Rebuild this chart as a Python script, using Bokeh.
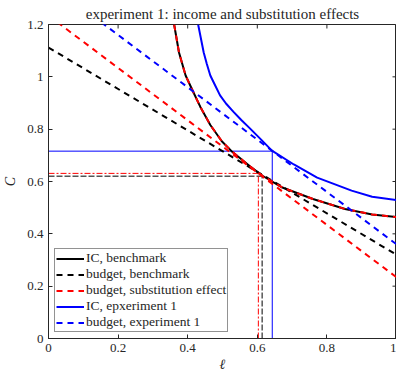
import math
from bokeh.plotting import figure
from bokeh.models import Range1d, FixedTicker, Title
from bokeh.embed import file_html
from bokeh.resources import INLINE

# ---------------- data ----------------
x_ticks = [0, 0.2, 0.4, 0.6, 0.8, 1]
y_ticks = [0, 0.2, 0.4, 0.6, 0.8, 1.0, 1.2]

# indifference curve, benchmark
ic_bench_l = [0.361, 0.375, 0.394, 0.416, 0.436, 0.465, 0.498, 0.526, 0.578, 0.616,
              0.672, 0.76, 0.852, 0.93, 1.0]
ic_bench_c = [1.2, 1.093, 1.005, 0.942, 0.886, 0.816, 0.754, 0.716, 0.659, 0.621,
              0.577, 0.533, 0.495, 0.474, 0.464]

# indifference curve, experiment 1
ic_exp_l = [0.430, 0.446, 0.455, 0.465, 0.479, 0.493, 0.510, 0.531, 0.554, 0.578, 0.611,
            0.642, 0.705, 0.772, 0.871, 0.93, 1.0]
ic_exp_c = [1.2, 1.093, 1.049, 1.005, 0.967, 0.929, 0.898, 0.867, 0.835, 0.804, 0.760,
            0.718, 0.665, 0.615, 0.565, 0.542, 0.529]

# budget lines (leisure endpoints and consumption at those points)
budget_l = [0, 1]
budget_bench_c = [1.112, 0.32]
budget_subst_c = [1.234, 0.234]
budget_exp_c = [1.36, 0.36]

# optimal points
opt_bench = (0.614, 0.620)
opt_subst = (0.603, 0.631)
opt_exp = (0.643, 0.716)

AX = "#262626"
SERIF = "Liberation Serif"

p = figure(width=396, height=371, x_range=Range1d(x_ticks[0], x_ticks[-1]),
           y_range=Range1d(y_ticks[0], y_ticks[-1]),
           output_backend="svg", toolbar_location=None, min_border=0,
           min_border_left=41, min_border_right=0, min_border_top=0, min_border_bottom=0,
           title="experiment 1: income and substitution effects",
           y_axis_label="C")

p.title.text_font = SERIF
p.title.text_font_size = "15px"
p.title.text_font_style = "normal"
p.title.text_color = AX
p.title.align = "center"
p.title.standoff = 6

p.xgrid.visible = False
p.ygrid.visible = False
p.background_fill_color = "white"
p.border_fill_color = "white"
p.outline_line_color = AX
p.outline_line_alpha = 1

for ax, ticks in ((p.xaxis[0], x_ticks), (p.yaxis[0], y_ticks)):
    ax.ticker = FixedTicker(ticks=ticks)
    ax.major_label_overrides = {0: "0", 1: "1"}
    ax.major_tick_in = 4
    ax.major_tick_out = 0
    ax.minor_tick_line_color = None
    ax.axis_line_color = AX
    ax.major_tick_line_color = AX
    ax.major_label_text_font = SERIF
    ax.major_label_text_font_size = "13px"
    ax.major_label_text_color = AX
    ax.axis_label_text_font = SERIF
    ax.axis_label_text_font_size = "14px"
    ax.axis_label_text_font_style = "italic"
    ax.axis_label_text_color = AX

p.xaxis.major_label_standoff = 5
p.yaxis.major_label_standoff = 5
p.yaxis.axis_label_standoff = 6

# x axis label as a title below the axis
xl = Title(text="ℓ", align="center", text_font=SERIF, text_font_size="14px",
           text_font_style="italic", text_color=AX, standoff=0, offset=0)
p.add_layout(xl, "below")

# inward tick marks on the top and right edges of the box (half of each dash is clipped)
p.scatter(x_ticks, [y_ticks[-1]] * len(x_ticks), marker="dash", angle=math.pi / 2,
          size=8, line_color=AX, line_width=1)
p.scatter([x_ticks[-1]] * len(y_ticks), y_ticks, marker="dash",
          size=8, line_color=AX, line_width=1)

# thin guide lines to the optima
p.line([0, opt_bench[0]], [opt_bench[1], opt_bench[1]], line_color="#555555", line_width=1.5, line_dash="6 2")
p.line([opt_bench[0], opt_bench[0]], [0, opt_bench[1]], line_color="#555555", line_width=1.5, line_dash="6 2")
p.line([0, opt_subst[0]], [opt_subst[1], opt_subst[1]], line_color="red", line_width=1, line_dash="6 2 2 2")
p.line([opt_subst[0], opt_subst[0]], [0, opt_subst[1]], line_color="red", line_width=1, line_dash="6 2 2 2")
p.line([0, opt_exp[0]], [opt_exp[1], opt_exp[1]], line_color="blue", line_width=1)
p.line([opt_exp[0], opt_exp[0]], [0, opt_exp[1]], line_color="blue", line_width=1)

DASH = "6 5"
p.line(ic_bench_l, ic_bench_c, line_color="black", line_width=2, legend_label="IC, benchmark")
p.line(budget_l, budget_bench_c, line_color="black", line_width=2, line_dash=DASH,
       legend_label="budget, benchmark")
p.line(budget_l, budget_subst_c, line_color="red", line_width=2, line_dash=DASH,
       legend_label="budget, substitution effect")
p.line(ic_bench_l, ic_bench_c, line_color="red", line_width=2, line_dash=DASH)
p.line(ic_exp_l, ic_exp_c, line_color="blue", line_width=2, legend_label="IC, epxeriment 1")
p.line(budget_l, budget_exp_c, line_color="blue", line_width=2, line_dash=DASH,
       legend_label="budget, experiment 1")

lg = p.legend[0]
lg.location = "bottom_left"
lg.margin = 6
lg.padding = 1
lg.spacing = 0
lg.glyph_width = 28
lg.glyph_height = 15
lg.label_height = 15
lg.label_standoff = 2
lg.label_text_font = SERIF
lg.label_text_font_size = "13.5px"
lg.label_text_color = AX
lg.border_line_color = AX
lg.border_line_width = 1
lg.background_fill_color = "white"
lg.background_fill_alpha = 1

open("out.html", "w").write(file_html(p, INLINE))
